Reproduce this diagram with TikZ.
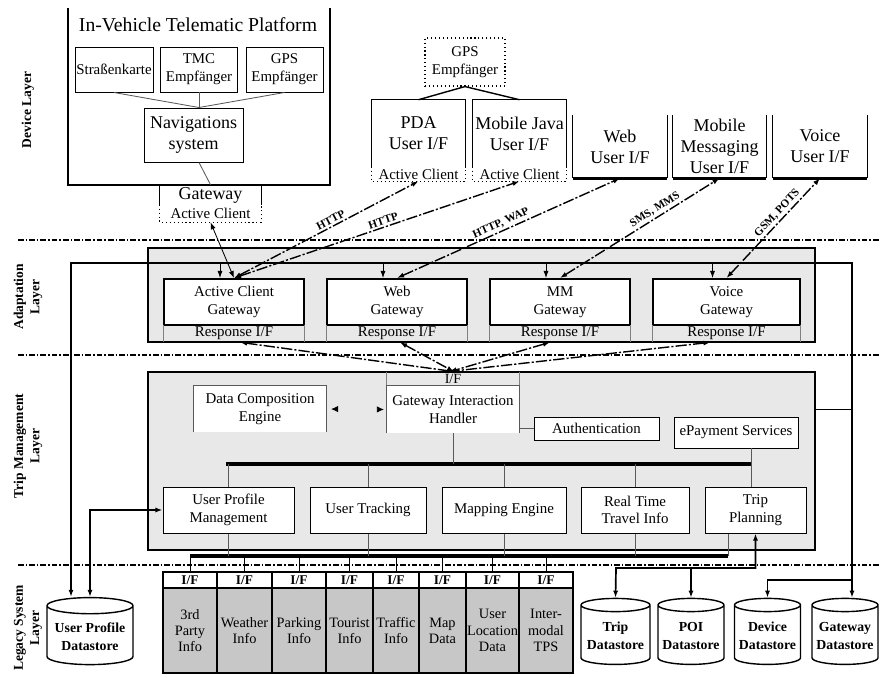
\documentclass[tikz,border=0pt]{standalone}
\usepackage{fontspec}
\setmainfont{Liberation Serif}
\usetikzlibrary{shapes.geometric,arrows.meta,calc}
\definecolor{panelgray}{gray}{0.91}
\definecolor{legacygray}{gray}{0.78}
\newcommand\pxu{0.025cm}
\begin{document}
\begin{tikzpicture}[x=\pxu, y=-\pxu, >={Latex[length=5pt,width=3.6pt]},
    box/.style 2 args={minimum width=#1*\pxu, minimum height=#2*\pxu, inner sep=0pt, align=center},
    txts/.style={font=\fontsize{10.6}{12.6}\selectfont},
    txtl/.style={font=\fontsize{12.8}{15}\selectfont},
    plain/.style={draw, line width=0.7pt, fill=white},
    gwbox/.style={draw, line width=1.4pt, fill=white},
    dotbox/.style={draw, dotted, line width=0.8pt},
    panel/.style={draw, line width=1.4pt, fill=panelgray},
    wire/.style={draw=gray!70!black, line width=0.6pt},
    link/.style={line width=1pt, dash pattern=on 8pt off 1.5pt on 1.5pt off 1.5pt, <->},
    edgelbl/.style={font=\fontsize{8}{9}\bfseries\selectfont, sloped, above, inner sep=1.5pt},
    mainline/.style={line width=1.2pt},
    bus/.style={line width=3.4pt},
    ghost/.style={draw=panelgray, line width=0.6pt, {Latex[black,length=5pt,width=4.5pt]}-{Latex[black,length=5pt,width=4.5pt]}, shorten <=3pt, shorten >=2pt},
    layersep/.style={line width=0.8pt, dash pattern=on 4pt off 1.5pt on 1pt off 1.5pt},
    layerlbl/.style={rotate=90, align=center, font=\fontsize{9.6}{11.5}\bfseries\selectfont},
    store/.style 2 args={shape=cylinder, shape border rotate=90, aspect=0.22, draw, line width=1pt, fill=white, minimum width=#1*\pxu, minimum height=#2*\pxu, inner sep=1pt, align=center, font=\fontsize{9.8}{12.5}\bfseries\selectfont}
  ]
  \useasboundingbox (0,0) rectangle (880,677);

  \foreach \yy in {240,355,565}
    \draw[layersep] (18,\yy) -- (880,\yy);

  \node[layerlbl] (devlbl) at (28,110) {Device Layer};
  \node[layerlbl] (adalbl) at (28,297) {Adaptation\\Layer};
  \node[layerlbl] (triplbl) at (28,446) {Trip Management\\Layer};
  \node[layerlbl] (leglbl) at (28,628) {Legacy System\\Layer};

  \draw[line width=1.2pt] (68,8) -- (68,185) -- (330,185) -- (330,8);
  \node[font=\fontsize{14}{16}\selectfont] (ivtp) at (198,25) {In-Vehicle Telematic Platform};
  \node[box={78}{45}, plain, txts] (strasse) at (114,69.5) {Straßenkarte};
  \node[box={77}{45}, plain, txts] (tmc) at (199,69.5) {TMC\\Empfänger};
  \node[box={77}{45}, plain, txts] (gpsv) at (284.5,69.5) {GPS\\Empfänger};
  \node[box={99}{54}, plain, txtl] (nav) at (193.5,135) {Navigations\\system};
  \draw[wire] (strasse.south) -- (tmc.south |- nav.north);
  \draw[wire] (tmc.south) -- (tmc.south |- nav.north);
  \draw[wire] (gpsv.south) -- (tmc.south |- nav.north);

  \node[box={101}{20}, txtl] (gw) at (210.5,195) {Gateway};
  \draw[line width=0.8pt] (gw.north west) -- (gw.south west) (gw.north east) -- (gw.south east);
  \node[box={101}{17}, txts] (gw-ac) at (210.5,213.5) {Active Client};
  \draw[dotted, line width=0.8pt] (gw-ac.north west) |- (gw-ac.south east) -- (gw-ac.north east);
  \draw[wire] (tmc.south |- nav.south) -- (gw.north);

  \node[box={80}{48}, dotbox, txts] (gpsm) at (465,62) {GPS\\Empfänger};
  \node[box={93}{67}, txtl] (pda) at (418.5,133.5) {PDA\\User I/F};
  \node[box={93}{14}, txts] (pda-ac) at (418.5,174) {Active Client};
  \node[box={93}{67}, txtl] (java) at (519.5,133.5) {Mobile Java\\User I/F};
  \node[box={93}{14}, txts] (java-ac) at (519.5,174) {Active Client};
  \foreach \n in {pda,java}{
    \draw[line width=0.8pt] (\n.south west) |- (\n.north east) -- (\n.south east);
    \draw[dotted, line width=0.8pt] (\n-ac.north west) |- (\n-ac.south east) -- (\n-ac.north east);
    \draw[line width=1pt] (gpsm.south) -- (\n.north);
  }

  \node[box={94}{63}, txtl] (web) at (620,146.5) {Web\\User I/F};
  \node[box={93}{63}, txtl] (mmui) at (719.5,146.5) {Mobile\\Messaging\\User I/F};
  \node[box={94}{63}, txtl] (voice) at (820,146.5) {Voice\\User I/F};
  \foreach \n in {web,mmui,voice}{
    \draw[line width=0.8pt] (\n.north west) -- (\n.south west) (\n.north east) -- (\n.south east);
    \draw[line width=1.8pt] (\n.south west) -- (\n.south east);
  }

  \node[box={667}{94}, panel] (adapt) at (481.5,295) {};
  \coordinate (tl) at (71,263);
  \coordinate (tr) at (852,263);
  \foreach \n/\xx/\w/\t in {acg/234/140/Active Client, webg/397/140/Web, mmg/560/140/MM, vg/726.5/147/Voice}{
    \node[box={\w}{46}, gwbox, txts] (\n) at (\xx,302) {\t\\Gateway};
    \node[box={\w}{17}, txts] (\n-r) at (\xx,333.5) {Response I/F};
    \draw[wire, draw=gray] (\n-r.north west) -- (\n-r.south west) (\n-r.north east) -- (\n-r.south east);
    \path (\n.north) ++(-14,0) coordinate (\n-in);
    \draw[line width=0.6pt, ->] (\n-in |- tl) -- (\n-in);
  }

  \draw[line width=0.6pt, <->] (acg.north) -- (gw-ac.south);
  \draw[link] (acg.north) -- node[edgelbl, pos=0.54] {HTTP} (pda-ac.south);
  \draw[link] (acg.north) -- node[edgelbl, pos=0.53] {HTTP} (java-ac.south);
  \draw[link] (webg.north) -- node[edgelbl, pos=0.48] {HTTP, WAP} (web.south);
  \draw[link] (mmg.north) -- node[edgelbl, pos=0.62] {SMS, MMS} (mmui.south);
  \draw[link] (vg.north) -- node[edgelbl, pos=0.6] {GSM, POTS} (voice.south);

  \node[box={667}{178}, panel] (trip) at (481.5,461) {};
  \node[box={132}{14}, font=\fontsize{10}{11}\selectfont] (gif) at (453,379) {I/F};
  \draw[wire, draw=gray] (gif.north west) -- (gif.south west) (gif.north east) -- (gif.south east);
  \node[box={132}{47}, txts, fill=white] (gih) at (453,409.5) {Gateway Interaction\\Handler};
  \draw[wire] (gih.south west) |- (gih.north east) -- (gih.south east);
  \node[box={133}{46}, txts, fill=white] (dce) at (260,409) {Data Composition\\Engine};
  \draw[wire] (dce.south west) |- (dce.north east) -- (dce.south east);
  \node[box={125}{23}, plain, txts] (auth) at (596.5,428.5) {Authentication};
  \node[box={124}{31}, plain, txts] (epay) at (736,432.5) {ePayment Services};
  \draw[ghost] (dce.east) -- (gih.west);
  \draw[ghost, <-] (gih.east) -- (auth.north west |- gih.east);
  \draw[wire] (auth.west) -- (auth.west -| gih.east);

  \foreach \n/\sx in {acg/6, webg/3, mmg/-10, vg/-16}
    \draw[link] ($(\n-r.south)+(\sx,0)$) -- ($(gif.north)+(\sx/3,0)$);

  \foreach \n/\xx/\w/\t in {upm/228.5/131/{User Profile\\Management}, ut/368/116/User Tracking, me/504/124/Mapping Engine, rtti/635/108/{Real Time\\Travel Info}, tp/755.5/101/{Trip\\Planning}}
    \node[box={\w}{46}, plain, txts] (\n) at (\xx,510) {\t};

  \coordinate (ub1) at (226,464);
  \coordinate (ub2) at (751,464);
  \coordinate (lb1) at (190,556);
  \coordinate (lb2) at (728,556);
  \draw[bus] (ub1) -- (ub2);
  \draw[bus] (lb1) -- (lb2);
  \foreach \n in {upm,ut,me,rtti}{
    \draw[wire] (\n.north) -- (\n.north |- ub1);
    \draw[wire] (\n.south) -- (\n.south |- lb1);
  }
  \draw[wire] (gih.south) -- (gih.south |- ub1);
  \draw[wire] (ub2 |- epay.south) -- (ub2 |- tp.north);
  \draw[wire] (lb2 |- tp.south) -- (lb2);

  \foreach \i/\l/\r/\t in {1/163/217/{3rd\\Party\\Info}, 2/217/272/{Weather\\Info}, 3/272/326/{Parking\\Info}, 4/326/373/{Tourist\\Info}, 5/373/419/{Traffic\\Info}, 6/419/466/{Map\\Data}, 7/466/519/{User\\Location\\Data}, 8/519/573/{Inter-\\modal\\TPS}}{
    \node[box={(\r-\l)}{16}, draw, line width=0.9pt, fill=white, font=\fontsize{9.5}{10}\bfseries\selectfont] (if\i) at ({(\l+\r)/2},580) {I/F};
    \node[box={(\r-\l)}{85}, draw, line width=0.9pt, fill=legacygray, font=\fontsize{10.2}{11.5}\selectfont] (lg\i) at ({(\l+\r)/2},630.5) {\t};
    \draw[line width=0.6pt] (if\i.north) -- (if\i.north |- lb1);
  }

  \node[store={86}{67}] (updata) at (90,636.5) {User Profile\\Datastore};
  \node[store={69}{66}] (tripdata) at (615.5,636) {Trip\\Datastore};
  \node[store={66}{66}] (poidata) at (691,636) {POI\\Datastore};
  \node[store={66}{66}] (devdata) at (767.5,636) {Device\\Datastore};
  \node[store={66}{66}] (gwdata) at (845,636) {Gateway\\Datastore};

  \draw[mainline, <->] (tl |- updata.north) -- (tl) -- (tr) -- (tr |- gwdata.north);
  \draw[line width=0.6pt] (trip.east |- gih) -- (tr |- gih);
  \coordinate (dj) at (852,580);
  \draw[mainline, ->] (dj) -| (devdata.north);
  \draw[mainline, <->] (upm.west) -| (updata.north);
  \coordinate (tj) at (616,568);
  \draw[mainline, <->] (tp.south) |- (tj) -- (tripdata.north);
  \draw[mainline, ->] (poidata.north |- tj) -- (poidata.north);
\end{tikzpicture}
\end{document}
